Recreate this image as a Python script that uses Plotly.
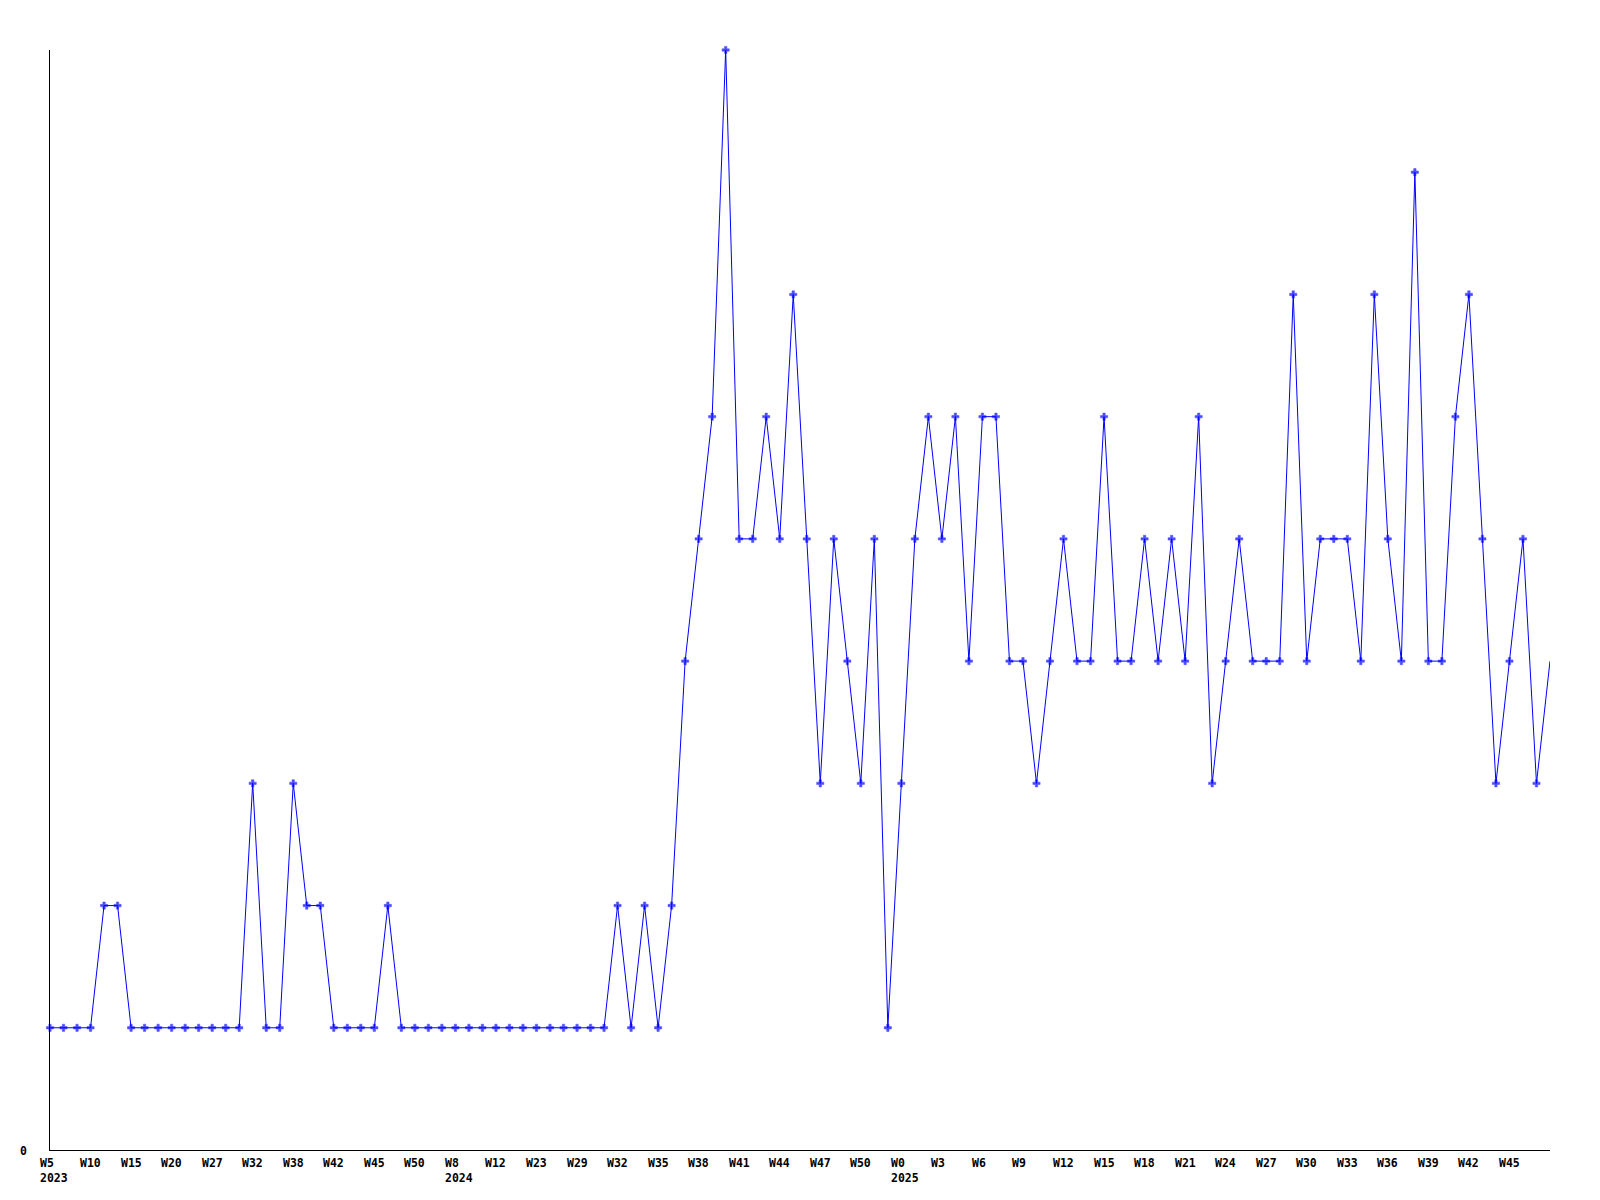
import plotly.graph_objects as go

# ---- data ----
values = [
    1, 1, 1, 1, 2, 2, 1, 1, 1, 1, 1, 1, 1, 1, 1, 3, 1, 1, 3, 2,
    2, 1, 1, 1, 1, 2, 1, 1, 1, 1, 1, 1, 1, 1, 1, 1, 1, 1, 1, 1,
    1, 1, 2, 1, 2, 1, 2, 4, 5, 6, 9, 5, 5, 6, 5, 7, 5, 3, 5, 4,
    3, 5, 1, 3, 5, 6, 5, 6, 4, 6, 6, 4, 4, 3, 4, 5, 4, 4, 6, 4,
    4, 5, 4, 5, 4, 6, 3, 4, 5, 4, 4, 4, 7, 4, 5, 5, 5, 4, 7, 5,
    4, 8, 4, 4, 6, 7, 5, 3, 4, 5, 3, 4,
]
tick_labels = [
    "W5", "W10", "W15", "W20", "W27", "W32", "W38", "W42", "W45", "W50",
    "W8", "W12", "W23", "W29", "W32", "W35", "W38", "W41", "W44", "W47",
    "W50", "W0", "W3", "W6", "W9", "W12", "W15", "W18", "W21", "W24",
    "W27", "W30", "W33", "W36", "W39", "W42", "W45",
]
tick_step = 3
year_labels = {0: "2023", 10: "2024", 21: "2025"}  # tick number -> year
y_tick_vals = [0]
y_tick_text = ["0"]

x = list(range(len(values)))
n_last = len(values) - 1

FONT = dict(family="DejaVu Sans Mono", size=11.5, color="#000000", weight="bold")

fig = go.Figure()
fig.add_trace(go.Scatter(
    x=x, y=values, mode="lines+markers",
    line=dict(color="#0000ff", width=1),
    marker=dict(symbol="cross", size=[6] * n_last + [0], color="#0000ff",
                line=dict(width=0.5, color="#0000ff")),
    cliponaxis=False,
    hoverinfo="x+y", showlegend=False,
))

annotations = []
for k, lab in enumerate(tick_labels):
    txt = lab
    if k in year_labels:
        txt = lab + "<br>" + year_labels[k]
    annotations.append(dict(
        x=(k * tick_step - 0.85) / n_last, xref="paper", xanchor="left",
        y=0, yref="paper", yanchor="top", yshift=-5,
        text=txt, showarrow=False, align="left", font=FONT, borderpad=0,
    ))
for v, t in zip(y_tick_vals, y_tick_text):
    annotations.append(dict(
        x=-0.0175, xref="paper", xanchor="center",
        y=v, yref="y", yanchor="middle", yshift=-1,
        text=t, showarrow=False, font=FONT, borderpad=0,
    ))

fig.update_layout(
    width=1600, height=1200,
    margin=dict(l=50, r=50, t=50, b=50),
    paper_bgcolor="white", plot_bgcolor="white",
    xaxis=dict(range=[0, n_last], showgrid=False, zeroline=False,
               showticklabels=False, ticks="", showline=True,
               linecolor="#000000", linewidth=1, fixedrange=True),
    yaxis=dict(range=[0, 9], showgrid=False, zeroline=False,
               showticklabels=False, ticks="", showline=True,
               linecolor="#000000", linewidth=1, fixedrange=True),
    annotations=annotations,
)

fig.write_html("out.html", config={"displayModeBar": False},
               post_script="document.body.style.margin='0';")
